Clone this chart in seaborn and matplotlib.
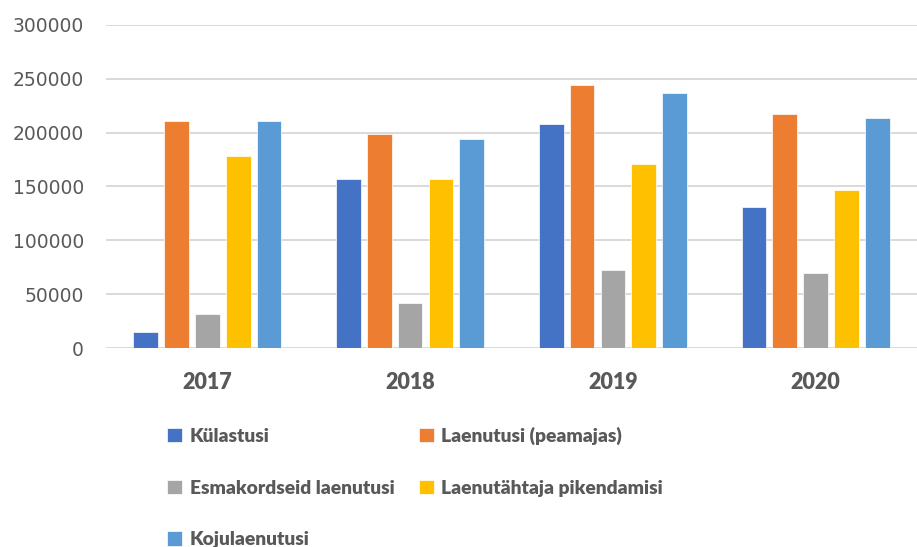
import pandas as pd
import seaborn as sns
import matplotlib.pyplot as plt

# Andmed
aastad = ['2017', '2018', '2019', '2020']
kulastusi = [15000, 157000, 208000, 131000]
laenutusi = [210500, 199000, 244000, 217500]
esmakordseid = [32000, 41500, 72500, 70000]
pikendamisi = [178500, 157000, 171000, 146500]
kojulaenutusi = [210500, 194000, 236500, 214000]

sarjad = ['Külastusi', 'Laenutusi (peamajas)', 'Esmakordseid laenutusi',
          'Laenutähtaja pikendamisi', 'Kojulaenutusi']
varvid = ['#4472C4', '#ED7D31', '#A5A5A5', '#FFC000', '#5B9BD5']

df = pd.DataFrame({
    'aasta': aastad * 5,
    'seeria': [s for s in sarjad for _ in aastad],
    'vaartus': kulastusi + laenutusi + esmakordseid + pikendamisi + kojulaenutusi,
})

sns.set_style('white')
plt.rcParams['font.family'] = ['DejaVu Sans']

fig = plt.figure(figsize=(9.17, 5.47), dpi=100)
ax = fig.add_axes([0.1156, 0.3638, 0.8844, 0.5905])

sns.barplot(data=df, x='aasta', y='vaartus', hue='seeria', hue_order=sarjad,
            palette=varvid, width=0.76, gap=0.2, errorbar=None,
            edgecolor='white', linewidth=0.5, saturation=1, ax=ax, zorder=3)

ax.set_ylim(0, 300000)
ax.set_yticks(range(0, 300001, 50000))
ax.set_xlim(-0.5, 3.5)
ax.grid(axis='y', color='#d9d9d9', linewidth=1.4, zorder=0)
ax.set_axisbelow(True)
for s in ax.spines.values():
    s.set_visible(False)
ax.set_xlabel('')
ax.set_ylabel('')
ax.tick_params(axis='y', length=0, pad=16, labelsize=13.5, labelcolor='#595959')
ax.tick_params(axis='x', length=0, pad=17, labelcolor='#595959')
for t in ax.get_xticklabels():
    t.set_fontfamily('Lato')
    t.set_fontweight('heavy')
    t.set_fontsize(15.5)

handles, labels = ax.get_legend_handles_labels()
ax.get_legend().remove()
order = [0, 2, 4, 1, 3]
fig.legend([handles[i] for i in order], [labels[i] for i in order],
           loc='upper left', bbox_to_anchor=(0.174, 0.234), ncol=2, frameon=False,
           prop={'family': 'Lato', 'size': 13.9, 'weight': 'heavy'}, labelcolor='#595959',
           handlelength=0.78, handleheight=0.78, handletextpad=0.38,
           columnspacing=1.25, labelspacing=1.8, borderaxespad=0)

fig.savefig('out.png', dpi=100)
